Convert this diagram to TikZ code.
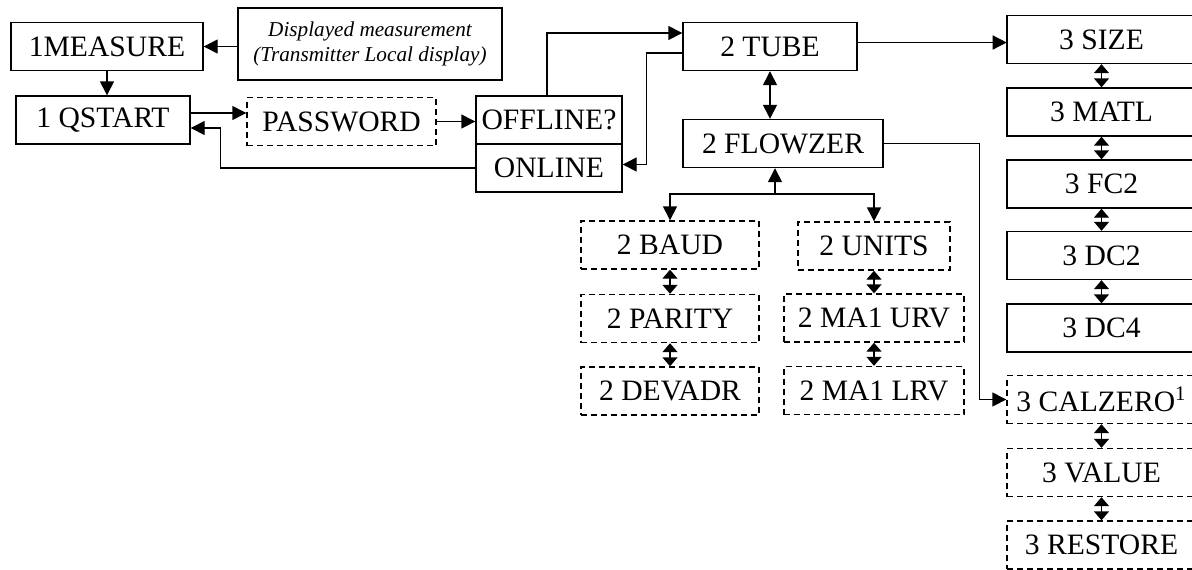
\documentclass[tikz,border=0pt]{standalone}
\usepackage{fontspec}
\setmainfont{Liberation Serif}
\usetikzlibrary{arrows.meta}

\begin{document}
\begin{tikzpicture}
  [x=0.5pt,y=-0.5pt,line width=0.7pt,
   every node/.style={draw,rectangle,inner sep=0pt,minimum height=24pt,font=\fontsize{14.8}{17}\selectfont},
   opt/.style={dash pattern=on 3pt off 2pt},
   col/.style={minimum width=94.5pt},
   >={Triangle[length=7pt,width=7pt]},
   sw/.style={{Triangle[length=4.5pt,width=7.5pt]}-{Triangle[length=4.5pt,width=7.5pt]}}]
  \useasboundingbox (0,0) rectangle (1192,569);
  \node[minimum width=96pt] (measure) at (107,46.5) {1MEASURE};
  \node[minimum width=132pt,minimum height=36pt,align=center,font=\fontsize{10.6}{12.5}\selectfont\itshape] (display) at (370,44) {Displayed measurement\\(Transmitter Local display)};
  \node[minimum width=87pt] (qstart) at (103,120) {1 QSTART};
  \node[opt,minimum width=94.5pt] (password) at (341.5,121.5) {PASSWORD};
  \node[minimum width=73pt] (offline) at (549,120) {OFFLINE?};
  \node[minimum width=73pt] (online) at (549,168) {ONLINE};
  \node[minimum width=87pt] (tube) at (770,46.5) {2 TUBE};
  \node[minimum width=100pt] (flowzer) at (783,143.5) {2 FLOWZER};
  \node[opt,minimum width=89pt] (baud) at (670,245) {2 BAUD};
  \node[opt,minimum width=89pt] (parity) at (670,318.5) {2 PARITY};
  \node[opt,minimum width=89pt] (devadr) at (670,391) {2 DEVADR};
  \node[opt,minimum width=76pt] (units) at (874,246) {2 UNITS};
  \node[opt,minimum width=90pt] (urv) at (874,318) {2 MA1 URV};
  \node[opt,minimum width=90pt] (lrv) at (874,390.5) {2 MA1 LRV};
  \node[col] (size) at (1101.5,39.5) {3 SIZE};
  \node[col] (matl) at (1101.5,112) {3 MATL};
  \node[col] (fc) at (1101.5,184) {3 FC2};
  \node[col] (dcb) at (1101.5,255.5) {3 DC2};
  \node[col] (dcd) at (1101.5,328) {3 DC4};
  \node[col,opt] (calzero) at (1101.5,399.5) {3 CALZERO\textsuperscript{1}};
  \node[col,opt] (value) at (1101.5,472.5) {3 VALUE};
  \node[col,opt] (restore) at (1101.5,545) {3 RESTORE};
  \coordinate (fork) at (775,194);

  \draw[->] (display.west |- measure) -- (measure.east);
  \draw[->] (measure.south) -- (measure.south |- qstart.north);
  \draw[->] ([yshift=3.5pt]qstart.east) -- ([yshift=3.5pt]qstart.east -| password.west);
  \draw[->] (online.west) -- ++(-255,0) |- ([yshift=-4pt]qstart.east);
  \draw[->] (password) -- (password -| offline.west);
  \draw[->] ([xshift=-1pt]offline.north) |- ([yshift=6.75pt]tube.west);
  \draw[->] ([yshift=-3.25pt]tube.west) -- ++(-36,0) |- ([yshift=1.75pt]online.east);
  \draw[->] ([yshift=2pt]tube.east) -- ++(149,0);
  \draw[<->] (tube.south) -- (tube.south |- flowzer.north);
  \draw[->] (fork) -- (fork |- flowzer.south);
  \draw[->] (fork) -| (baud);
  \draw[->] (fork) -| (units);
  \draw[->] (flowzer.east) -- ++(96,0) |- (calzero.west);
  \foreach \from/\to in {size/matl,matl/fc,fc/dcb,dcb/dcd,calzero/value,value/restore,baud/parity,parity/devadr,units/urv,urv/lrv}
    \draw[sw] (\from) -- (\to);
\end{tikzpicture}
\end{document}
